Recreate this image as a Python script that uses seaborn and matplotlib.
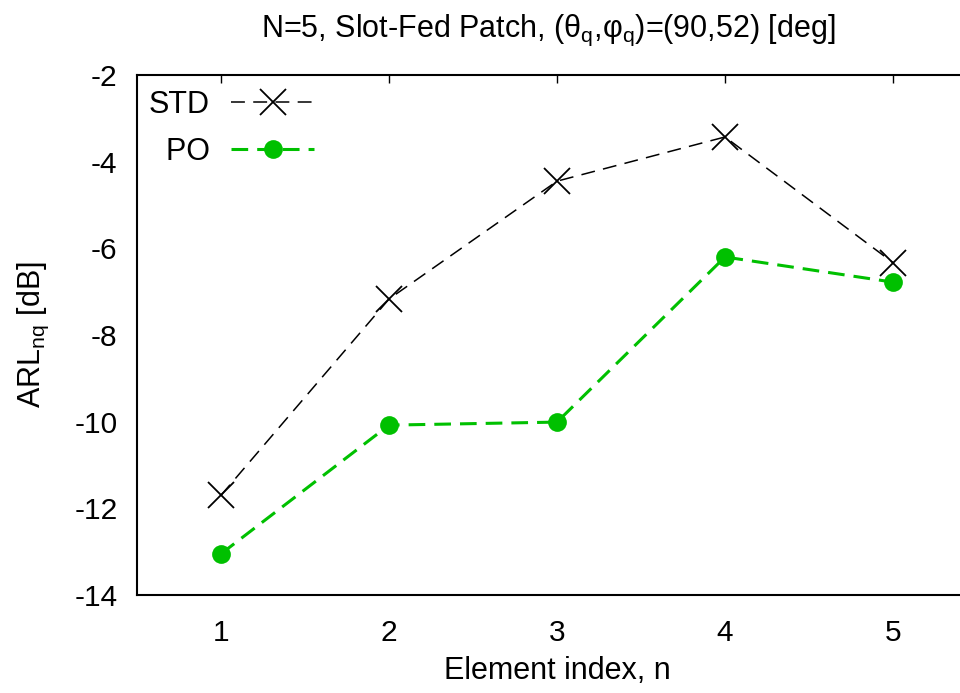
import matplotlib
matplotlib.use("Agg")
import matplotlib.pyplot as plt
import seaborn as sns
import pandas as pd

# data
element_index = [1, 2, 3, 4, 5]
std_values = [-11.7, -7.17, -4.45, -3.43, -6.33]
po_values = [-13.05, -10.08, -10.01, -6.2, -6.78]
x_ticks = [1, 2, 3, 4, 5]
y_ticks = [-14, -12, -10, -8, -6, -4, -2]

sns.set_style("white")
plt.rcParams['font.family'] = ['Liberation Sans', 'DejaVu Sans']
plt.rcParams['mathtext.fontset'] = 'custom'
plt.rcParams['mathtext.rm'] = 'Liberation Sans'
plt.rcParams['mathtext.it'] = 'Liberation Sans'
plt.rcParams['lines.scale_dashes'] = False
plt.rcParams['text.color'] = 'black'
plt.rcParams['axes.labelcolor'] = 'black'
plt.rcParams['xtick.color'] = 'black'
plt.rcParams['ytick.color'] = 'black'

FS = 22
TFS = 21.5
fig = plt.figure(figsize=(9.6, 6.93), dpi=100)
W, H = 960, 693
ax = fig.add_axes([137 / W, (H - 595) / H, (977 - 137) / W, 520 / H])

df = pd.DataFrame({"n": element_index, "STD": std_values, "PO": po_values})

sns.lineplot(data=df, x="n", y="STD", ax=ax, color="black", lw=1.1,
             linestyle=(0, (10, 6)), marker="x", markersize=19,
             mec="black", mew=1.3, label="STD")
sns.lineplot(data=df, x="n", y="PO", ax=ax, color="#00c000", lw=2.2,
             linestyle=(0, (12, 6.5)), marker="o", markersize=13.5,
             mec="#00c000", mfc="#00c000", mew=0, label="  PO")

ax.set_xlim(0.5, 5.5)
ax.set_ylim(-14, -2)
ax.set_xticks(x_ticks)
ax.set_yticks(y_ticks)
ax.set_xticklabels([str(v) for v in x_ticks])
ax.set_yticklabels([str(v) for v in y_ticks])
ax.tick_params(direction="in", length=6, width=1, top=True, right=True,
               labelsize=TFS, colors="black")
ax.tick_params(axis="x", pad=17)
ax.tick_params(axis="y", pad=14)
for s in ax.spines.values():
    s.set_color("black")
    s.set_linewidth(1.5)

ax.set_xlabel("Element index, n", fontsize=FS, labelpad=7)
ax.set_ylabel(r"ARL$_{\mathrm{nq}}$ [dB]", fontsize=FS, labelpad=17)
fig.text(548 / W, 1 - 30 / H,
         r"N=5, Slot-Fed Patch, (θ$_{\mathrm{q}}$,φ$_{\mathrm{q}}$)=(90,52) [deg]",
         ha="center", va="center", fontsize=FS)

leg = ax.legend(loc="upper left", bbox_to_anchor=(-8 / 840, 1.0 + 5 / 520),
                frameon=False, markerfirst=False, handlelength=2.7,
                fontsize=FS, borderaxespad=0.25, labelspacing=0.55,
                handletextpad=0.7)

fig.savefig("out.png", dpi=100)
